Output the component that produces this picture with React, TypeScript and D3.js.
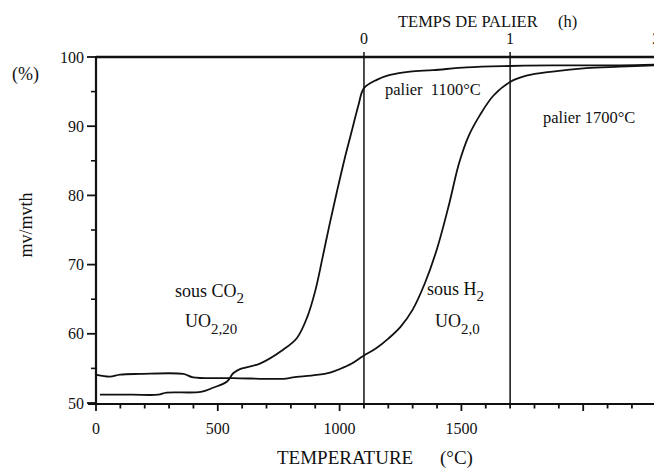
import React from "react";
import * as d3 from "d3";

// Tick labels
const yMajorTicks = [50, 60, 70, 80, 90, 100];
const yMinorTicks = [55, 65, 75, 85, 95];
const xLabelTicks = [0, 500, 1000, 1500];
const xMajorTicks = [0, 500, 1000, 1500, 2000];
const timeTicks = [0, 1, 2];
const palierTemps = [1100, 1700];

// Curve "sous CO2 / UO2,20": heating phase (°C) then hold at 1100°C (hours)
const co2HeatTemp = [16, 150, 255, 290, 430, 480, 538, 563, 591, 673, 768, 825, 867, 900, 930, 960, 990, 1020, 1050, 1077, 1100];
const co2HeatVal = [51.2, 51.2, 51.2, 51.5, 51.6, 52.2, 53.1, 54.3, 54.9, 55.7, 57.7, 59.4, 62.4, 66.2, 71.0, 76.0, 80.7, 85.2, 89.3, 93.0, 95.5];
const co2HoldHours = [0, 0.087, 0.178, 0.315, 0.473, 0.703, 1.0, 1.295, 1.753, 2.0];
const co2HoldVal = [95.5, 96.7, 97.4, 97.9, 98.1, 98.5, 98.7, 98.8, 98.8, 98.9];

// Curve "sous H2 / UO2,0": heating phase (°C) then hold at 1700°C (hours on top axis)
const h2HeatTemp = [3, 57, 99, 180, 358, 399, 564, 769, 809, 906, 961, 1000, 1050, 1097, 1150, 1200, 1250, 1300, 1350, 1400, 1450, 1490, 1530, 1576, 1631, 1700];
const h2HeatVal = [54.05, 53.8, 54.1, 54.2, 54.2, 53.7, 53.6, 53.5, 53.7, 54.05, 54.4, 54.9, 55.7, 56.8, 57.9, 59.3, 61.0, 63.5, 67.3, 72.3, 78.8, 84.6, 88.6, 91.6, 94.4, 96.4];
const h2HoldHours = [1.0, 1.111, 1.29, 1.52, 1.75, 2.0];
const h2HoldVal = [96.4, 97.3, 97.9, 98.4, 98.6, 98.8];

const W = 654;
const H = 471;
const FONT = "'Liberation Serif', 'Times New Roman', serif";

export default function App() {
  const x = d3.scaleLinear().domain([0, 2300]).range([96, 96 + 2300 * 0.2436]);
  const xt = d3.scaleLinear().domain([0, 2]).range([x(1100), x(2300)]);
  const y = d3.scaleLinear().domain([50, 100]).range([403, 57]);

  const line = d3
    .line<[number, number]>()
    .x((d) => d[0])
    .y((d) => d[1])
    .curve(d3.curveCatmullRom.alpha(0.5));

  const co2Pts: [number, number][] = [
    ...co2HeatTemp.map((t, i) => [x(t), y(co2HeatVal[i])] as [number, number]),
    ...co2HoldHours.slice(1).map((h, i) => [xt(h), y(co2HoldVal[i + 1])] as [number, number]),
  ];
  const h2Pts: [number, number][] = [
    ...h2HeatTemp.map((t, i) => [x(t), y(h2HeatVal[i])] as [number, number]),
    ...h2HoldHours.slice(1).map((h, i) => [xt(h), y(h2HoldVal[i + 1])] as [number, number]),
  ];

  const minorX = d3.range(0, 2301, 100);
  const axisY = y(50) + 1;

  return (
    <svg
      width={W}
      height={H}
      style={{ position: "absolute", left: 0, top: 0, display: "block", background: "#fff" }}
      fontFamily={FONT}
    >
      <rect x={0} y={0} width={W} height={H} fill="#fff" />
      {/* top border */}
      <line x1={x(0)} x2={W} y1={y(100)} y2={y(100)} stroke="#111" strokeWidth={2.5} />
      {/* y axis */}
      <line x1={x(0)} x2={x(0)} y1={y(100) - 1} y2={axisY} stroke="#111" strokeWidth={2.2} />
      {/* x axis */}
      <line x1={x(0) - 8} x2={W} y1={axisY} y2={axisY} stroke="#111" strokeWidth={2.2} />

      {/* y ticks */}
      {yMajorTicks.map((v) => (
        <g key={"ym" + v}>
          <line x1={x(0) - 9} x2={x(0)} y1={y(v)} y2={y(v)} stroke="#111" strokeWidth={1.8} />
          <text x={x(0) - 12} y={y(v) + 5.5} textAnchor="end" fontSize={16} fill="#111">
            {v}
          </text>
        </g>
      ))}
      {yMinorTicks.map((v) => (
        <line key={"yn" + v} x1={x(0) - 5} x2={x(0)} y1={y(v)} y2={y(v)} stroke="#111" strokeWidth={1.6} />
      ))}

      {/* x ticks */}
      {minorX.map((v) => (
        <line
          key={"xt" + v}
          x1={x(v)}
          x2={x(v)}
          y1={axisY}
          y2={axisY + (xMajorTicks.includes(v) ? 7 : 4.5)}
          stroke="#111"
          strokeWidth={1.8}
        />
      ))}
      {xLabelTicks.map((v) => (
        <text key={"xl" + v} x={x(v)} y={434} textAnchor="middle" fontSize={16} fill="#111">
          {v}
        </text>
      ))}

      {/* palier vertical lines */}
      {palierTemps.map((t) => (
        <line key={"pl" + t} x1={x(t)} x2={x(t)} y1={y(100) - 5} y2={axisY} stroke="#111" strokeWidth={1.5} />
      ))}

      {/* top time axis labels */}
      {timeTicks.map((h) => (
        <text key={"tt" + h} x={xt(h)} y={44} textAnchor="middle" fontSize={16} fill="#111">
          {h}
        </text>
      ))}
      <text x={398} y={27} fontSize={16.5} fill="#111">TEMPS DE PALIER</text>
      <text x={558} y={27} fontSize={16.5} fill="#111">(h)</text>

      {/* curves */}
      <path d={line(co2Pts) || ""} fill="none" stroke="#111" strokeWidth={1.8} strokeLinejoin="round" />
      <path d={line(h2Pts) || ""} fill="none" stroke="#111" strokeWidth={1.8} strokeLinejoin="round" />

      {/* annotations */}
      <text x={385} y={95} fontSize={16.5} fill="#111">palier&#160; 1100°C</text>
      <text x={543} y={123} fontSize={16.5} fill="#111">palier 1700°C</text>

      <text x={175} y={297} fontSize={18} fill="#111">
        sous CO<tspan fontSize={15} dy={6}>2</tspan>
      </text>
      <text x={185} y={327} fontSize={18} fill="#111">
        UO<tspan fontSize={15} dy={7}>2,20</tspan>
      </text>
      <text x={427} y={295} fontSize={18} fill="#111">
        sous H<tspan fontSize={15} dy={6}>2</tspan>
      </text>
      <text x={435} y={327} fontSize={18} fill="#111">
        UO<tspan fontSize={15} dy={7}>2,0</tspan>
      </text>

      {/* axis titles */}
      <text x={12} y={80} fontSize={18} fill="#111">(%)</text>
      <text
        transform="translate(32,225) rotate(-90)"
        textAnchor="middle"
        fontSize={18}
        fill="#111"
      >
        mv/mvth
      </text>
      <text x={277} y={464} fontSize={19} fill="#111">TEMPERATURE</text>
      <text x={440} y={464} fontSize={19} fill="#111">(°C)</text>
    </svg>
  );
}
